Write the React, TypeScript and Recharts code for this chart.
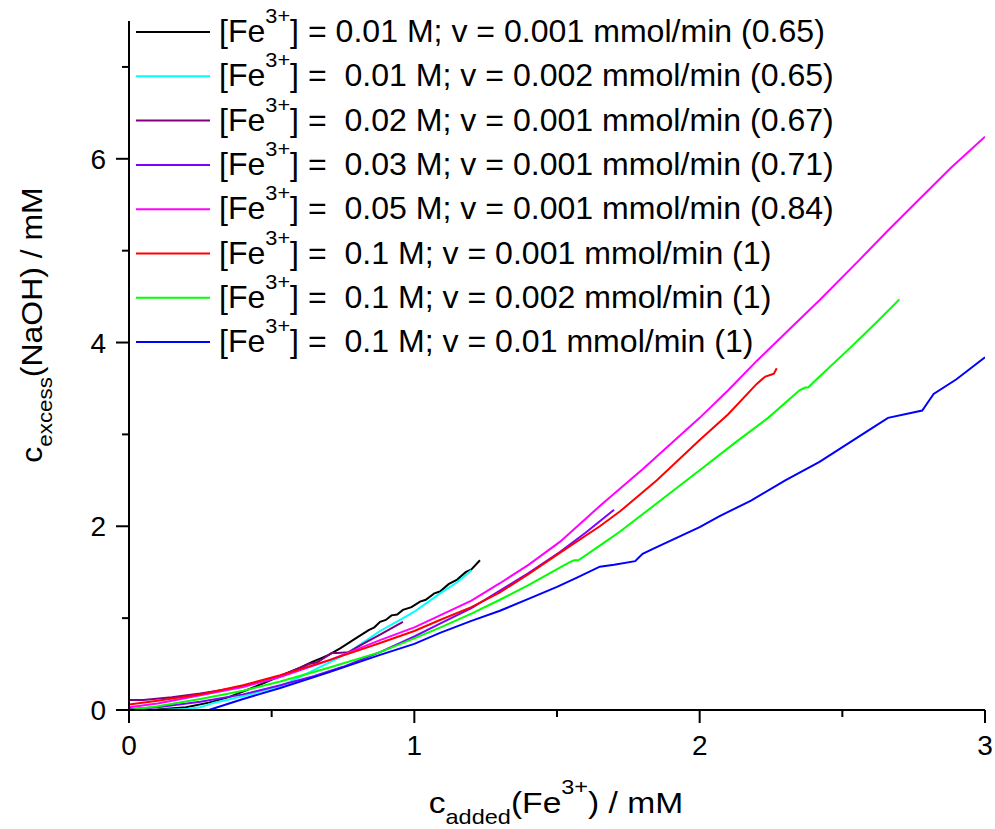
import React from 'react';
import { LineChart, Line, XAxis, YAxis, Legend } from 'recharts';

const FONT = '"Liberation Sans", Arial, Helvetica, sans-serif';

// ---- data (x = c_added(Fe3+) / mM, y = c_excess(NaOH) / mM) ----
const black001 = [
  [0, 0], [0.1, 0.005], [0.2, 0.03], [0.28, 0.08], [0.35, 0.14], [0.44, 0.25], [0.53, 0.37],
  [0.6, 0.46], [0.64, 0.52], [0.67, 0.56], [0.7, 0.6], [0.74, 0.67], [0.8, 0.79], [0.84, 0.87],
  [0.86, 0.9], [0.88, 0.96], [0.9, 0.98], [0.92, 1.03], [0.94, 1.04], [0.96, 1.09], [0.99, 1.12],
  [1.02, 1.18], [1.04, 1.2], [1.07, 1.27], [1.09, 1.29], [1.12, 1.37], [1.15, 1.42], [1.18, 1.5],
  [1.2, 1.53], [1.23, 1.63],
];
const cyan001 = [
  [0, 0], [0.1, 0], [0.2, 0.01], [0.25, 0.03], [0.3, 0.08], [0.4, 0.15], [0.53, 0.26], [0.6, 0.36],
  [0.67, 0.47], [0.73, 0.56], [0.79, 0.67], [0.88, 0.86], [0.95, 0.98], [1.0, 1.07], [1.05, 1.18],
  [1.09, 1.27], [1.15, 1.39], [1.2, 1.52],
];
const purple002 = [
  [0, 0.11], [0.05, 0.11], [0.15, 0.14], [0.25, 0.18], [0.35, 0.23], [0.45, 0.3], [0.53, 0.37],
  [0.6, 0.46], [0.63, 0.5], [0.66, 0.52], [0.71, 0.62], [0.73, 0.62], [0.77, 0.63], [0.82, 0.72],
  [0.88, 0.82], [0.96, 0.96],
];
const violet003 = [
  [0, 0.01], [0.1, 0.03], [0.25, 0.09], [0.4, 0.17], [0.53, 0.27], [0.65, 0.37], [0.75, 0.47],
  [0.88, 0.63], [1.0, 0.8], [1.09, 0.94], [1.2, 1.11], [1.3, 1.3], [1.4, 1.49], [1.51, 1.72],
  [1.6, 1.93], [1.7, 2.18],
];
const magenta005 = [
  [0, 0.03], [0.1, 0.07], [0.25, 0.16], [0.4, 0.25], [0.53, 0.36], [0.7, 0.54], [0.88, 0.76],
  [1.0, 0.9], [1.09, 1.03], [1.2, 1.19], [1.3, 1.38], [1.4, 1.58], [1.51, 1.83], [1.65, 2.22],
  [1.8, 2.62], [1.9, 2.9], [2.0, 3.18], [2.1, 3.48], [2.2, 3.8], [2.32, 4.16], [2.42, 4.46],
  [2.56, 4.9], [2.66, 5.22], [2.76, 5.53], [2.88, 5.9], [3.0, 6.24],
];
const red01 = [
  [0, 0.06], [0.1, 0.1], [0.25, 0.17], [0.4, 0.27], [0.53, 0.38], [0.7, 0.54], [0.88, 0.73],
  [1.0, 0.86], [1.09, 0.98], [1.2, 1.12], [1.3, 1.28], [1.4, 1.48], [1.51, 1.71], [1.65, 2.0],
  [1.72, 2.16], [1.85, 2.5], [2.0, 2.94], [2.1, 3.22], [2.2, 3.55], [2.23, 3.63], [2.25, 3.65],
  [2.26, 3.66], [2.27, 3.72],
];
const green01 = [
  [0, 0], [0.1, 0.04], [0.25, 0.12], [0.4, 0.21], [0.53, 0.31], [0.7, 0.46], [0.88, 0.63],
  [1.0, 0.78], [1.1, 0.91], [1.2, 1.05], [1.3, 1.2], [1.4, 1.36], [1.51, 1.55], [1.545, 1.61],
  [1.56, 1.63], [1.575, 1.63], [1.65, 1.79], [1.72, 1.94], [1.85, 2.25], [2.0, 2.61], [2.12, 2.9],
  [2.24, 3.18], [2.35, 3.48], [2.37, 3.51], [2.38, 3.51], [2.4, 3.57], [2.53, 3.95], [2.62, 4.22],
  [2.7, 4.47],
];
const blue01 = [
  [0.28, 0], [0.4, 0.12], [0.53, 0.24], [0.7, 0.41], [0.88, 0.6], [1.0, 0.72], [1.09, 0.84],
  [1.2, 0.97], [1.3, 1.08], [1.4, 1.21], [1.5, 1.34], [1.57, 1.44], [1.65, 1.56], [1.7, 1.58],
  [1.774, 1.62], [1.8, 1.7], [1.84, 1.76], [2.0, 1.99], [2.07, 2.11], [2.18, 2.28], [2.3, 2.5],
  [2.42, 2.7], [2.54, 2.94], [2.6, 3.06], [2.66, 3.18], [2.78, 3.26], [2.8, 3.35], [2.82, 3.44],
  [2.9, 3.6], [3.0, 3.84],
];

const xTicks = [0, 0.5, 1, 1.5, 2, 2.5, 3];
const yTicks = [0, 1, 2, 3, 4, 5, 6, 7];

const series = [
  { name: 's1', rest: '] = 0.01 M; v = 0.001 mmol/min (0.65)', color: '#000000', data: black001 },
  { name: 's2', rest: '] =  0.01 M; v = 0.002 mmol/min (0.65)', color: '#00FFFF', data: cyan001 },
  { name: 's3', rest: '] =  0.02 M; v = 0.001 mmol/min (0.67)', color: '#800080', data: purple002 },
  { name: 's4', rest: '] =  0.03 M; v = 0.001 mmol/min (0.71)', color: '#8000FF', data: violet003 },
  { name: 's5', rest: '] =  0.05 M; v = 0.001 mmol/min (0.84)', color: '#FF00FF', data: magenta005 },
  { name: 's6', rest: '] =  0.1 M; v = 0.001 mmol/min (1)', color: '#FF0000', data: red01 },
  { name: 's7', rest: '] =  0.1 M; v = 0.002 mmol/min (1)', color: '#00FF00', data: green01 },
  { name: 's8', rest: '] =  0.1 M; v = 0.01 mmol/min (1)', color: '#0000FF', data: blue01 },
];

const toPoints = (arr: number[][]) => arr.map(([x, y]) => ({ x, y }));

const XTick = (props: any) => {
  const { x, y, payload } = props;
  const major = Number.isInteger(payload.value);
  return (
    <g>
      <line x1={x} x2={x} y1={y} y2={y + (major ? 13 : 7)} stroke="#000" strokeWidth={2} />
      {major && (
        <text x={x} y={y + 45} textAnchor="middle" fontSize={28} fontFamily={FONT} fill="#000">
          {payload.value}
        </text>
      )}
    </g>
  );
};

const YTick = (props: any) => {
  const { x, y, payload } = props;
  const major = payload.value % 2 === 0;
  return (
    <g>
      <line x1={x} x2={x - (major ? 13 : 7)} y1={y} y2={y} stroke="#000" strokeWidth={2} />
      {major && (
        <text x={x - 23} y={y + 10} textAnchor="end" fontSize={28} fontFamily={FONT} fill="#000">
          {payload.value}
        </text>
      )}
    </g>
  );
};

const XTitle = () => (
  <g transform="translate(556 813) scale(1.12 1)">
    <text x={0} y={0} textAnchor="middle" fontSize={30} fontFamily={FONT} fill="#000" style={{ whiteSpace: 'pre' }}>
      c
      <tspan fontSize={21} dy={11}>added</tspan>
      <tspan dy={-11}>(Fe</tspan>
      <tspan fontSize={21} dy={-19}>3+</tspan>
      <tspan dy={19}>) / mM</tspan>
    </text>
  </g>
);

const YTitle = () => (
  <g transform="translate(42 325) rotate(-90) scale(1.065 1)">
    <text x={0} y={0} textAnchor="middle" fontSize={30} fontFamily={FONT} fill="#000" style={{ whiteSpace: 'pre' }}>
      c
      <tspan fontSize={21} dy={10}>excess</tspan>
      <tspan dy={-10}>(NaOH) / mM</tspan>
    </text>
  </g>
);

const LegendContent = (props: any) => {
  const payload = props.payload || [];
  return (
    <svg width={995} height={380} style={{ display: 'block', overflow: 'visible' }}>
      {payload.map((p: any, i: number) => {
        const s = series.find((d) => d.name === p.value) || series[i];
        const cy = 32 + i * 44.3;
        return (
          <g key={s.name}>
            <line x1={136} x2={210} y1={cy} y2={cy} stroke={p.color} strokeWidth={2} />
            <g transform={`translate(219 ${cy + 10}) scale(1.035 1)`}>
              <text x={0} y={0} fontSize={31} fontFamily={FONT} fill="#000" style={{ whiteSpace: 'pre' }}>
                [Fe
                <tspan fontSize={21} dy={-19}>3+</tspan>
                <tspan dy={19}>{s.rest}</tspan>
              </text>
            </g>
          </g>
        );
      })}
    </svg>
  );
};

export default function App() {
  return (
    <div style={{ position: 'absolute', left: 0, top: 0, width: 995, height: 829, background: '#fff' }}>
      <LineChart width={995} height={829} margin={{ top: 21, right: 10, bottom: 0, left: 29 }}>
        <XAxis
          type="number"
          dataKey="x"
          domain={[0, 3]}
          ticks={xTicks}
          interval={0}
          height={119}
          tickSize={0}
          tickMargin={0}
          tickLine={false}
          axisLine={{ stroke: '#000', strokeWidth: 2 }}
          tick={<XTick />}
          allowDataOverflow
          label={{ content: () => <XTitle /> }}
        />
        <YAxis
          type="number"
          dataKey="y"
          domain={[0, 7.5]}
          ticks={yTicks}
          interval={0}
          width={100}
          tickSize={0}
          tickMargin={0}
          tickLine={false}
          axisLine={{ stroke: '#000', strokeWidth: 2 }}
          tick={<YTick />}
          allowDataOverflow
          label={{ content: () => <YTitle /> }}
        />
        {series.map((s) => (
          <Line
            key={s.name}
            name={s.name}
            data={toPoints(s.data)}
            dataKey="y"
            stroke={s.color}
            strokeWidth={2}
            dot={false}
            activeDot={false}
            type="linear"
            isAnimationActive={false}
          />
        ))}
        <Legend
          layout="vertical"
          align="center"
          verticalAlign="middle"
          wrapperStyle={{ left: 0, top: 0, width: 995, height: 380, pointerEvents: 'none' }}
          content={<LegendContent />}
        />
      </LineChart>
    </div>
  );
}
